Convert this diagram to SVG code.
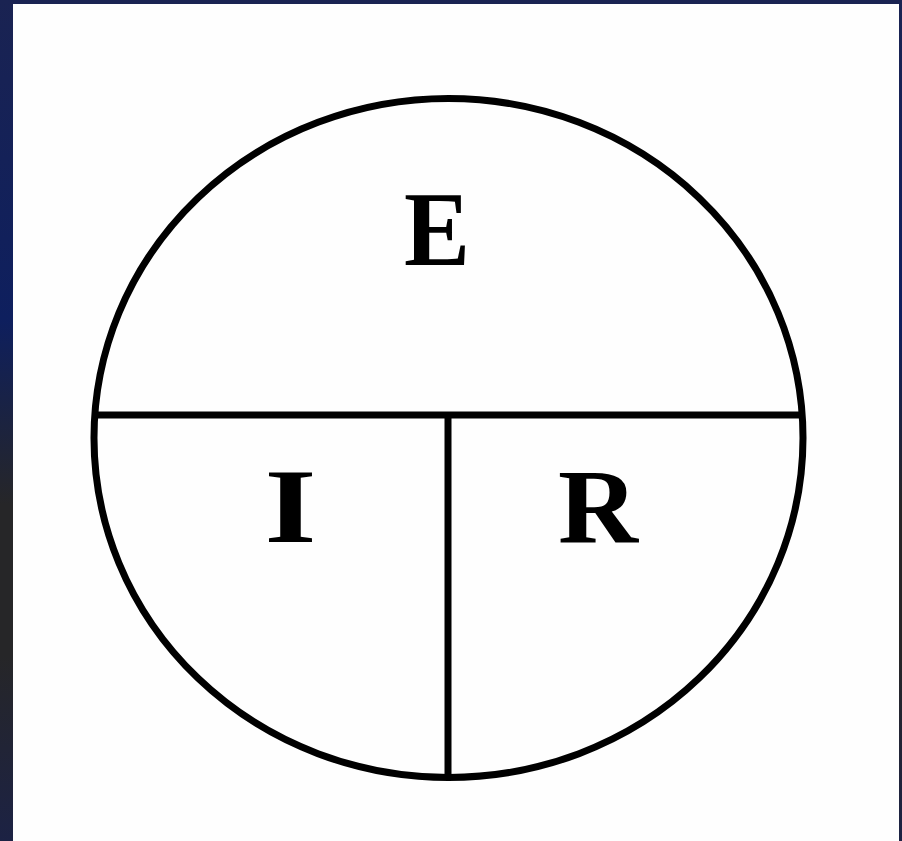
<svg xmlns="http://www.w3.org/2000/svg" width="902" height="841" viewBox="0 0 902 841">
  <defs>
    <linearGradient id="side" x1="0" y1="0" x2="0" y2="1">
      <stop offset="0" stop-color="#1a2352"/>
      <stop offset="0.38" stop-color="#0e1f5e"/>
      <stop offset="0.6" stop-color="#262628"/>
      <stop offset="0.78" stop-color="#262628"/>
      <stop offset="1" stop-color="#1c2244"/>
    </linearGradient>
    <style>
      .ln { fill: none; stroke: #000; stroke-width: 7; }
      .lt { font-family: "Liberation Serif", "Times New Roman", serif; font-weight: bold; font-size: 106px; fill: #000; text-anchor: middle; }
    </style>
  </defs>
  <rect x="0" y="0" width="902" height="841" fill="url(#side)"/>
  <rect x="13" y="4" width="886" height="837" fill="#fefefe"/>
  <g id="circle">
    <ellipse class="ln" cx="448.5" cy="438" rx="354.5" ry="339.5"/>
  </g>
  <g id="connectors">
    <line class="ln" x1="94" y1="415" x2="803" y2="415"/>
    <line class="ln" x1="448" y1="415" x2="448" y2="778"/>
  </g>
  <g id="node-E">
    <text class="lt" x="437" y="265" textLength="66" lengthAdjust="spacingAndGlyphs">E</text>
  </g>
  <g id="node-I">
    <text class="lt" x="290.5" y="542" textLength="52" lengthAdjust="spacingAndGlyphs">I</text>
  </g>
  <g id="node-R">
    <text class="lt" x="598" y="542" textLength="80" lengthAdjust="spacingAndGlyphs">R</text>
  </g>
</svg>
